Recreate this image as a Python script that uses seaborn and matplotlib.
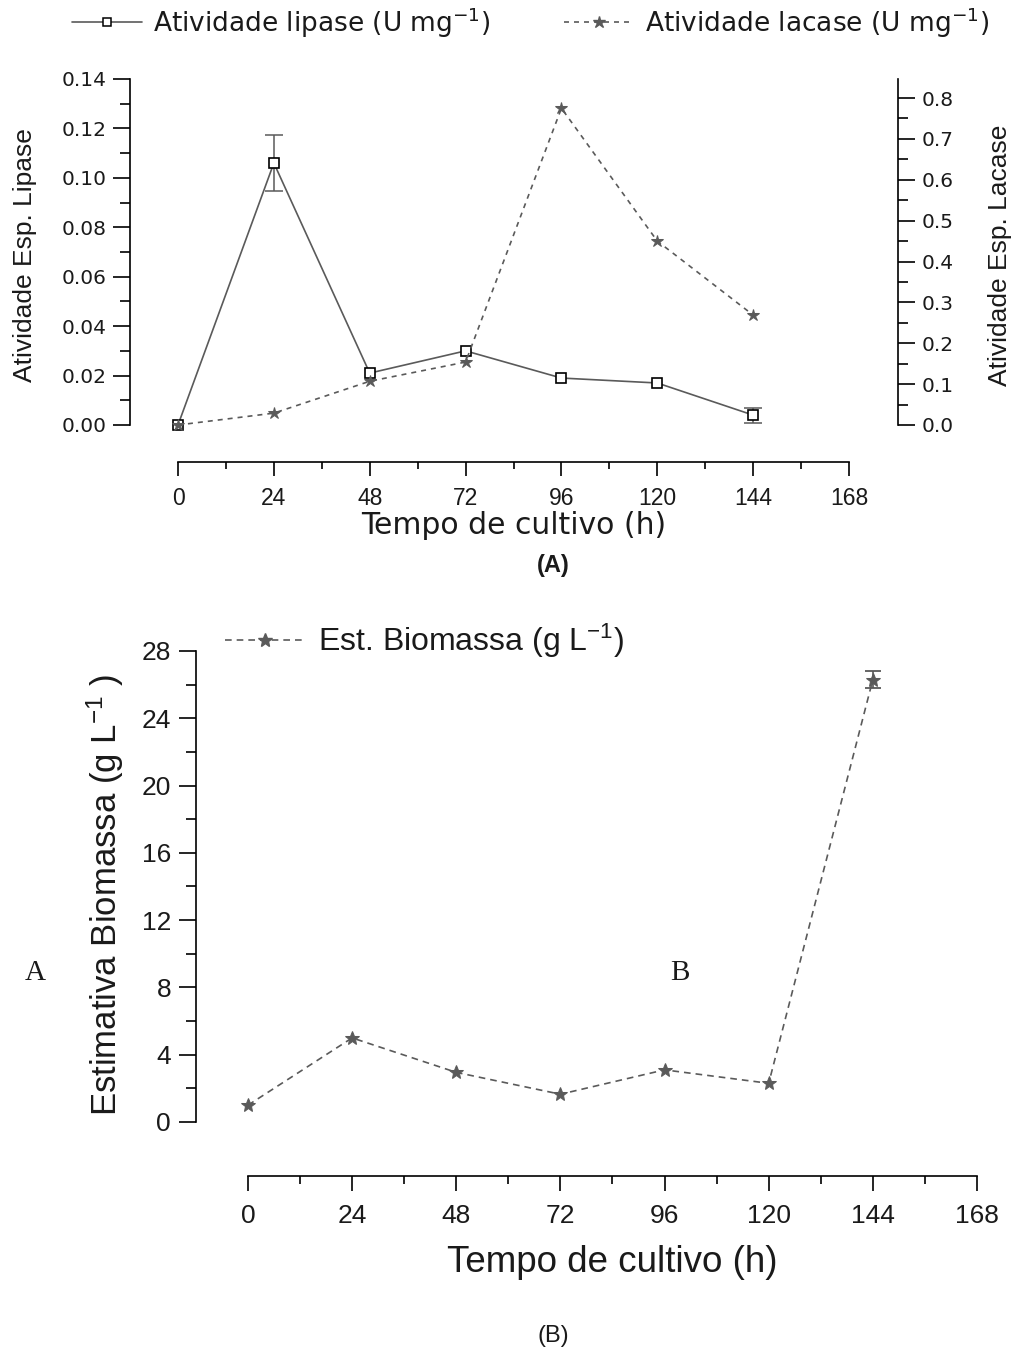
import matplotlib
matplotlib.use("Agg")
import matplotlib.pyplot as plt
from matplotlib.lines import Line2D
from matplotlib.ticker import FixedLocator
import numpy as np
import pandas as pd
import seaborn as sns

# ---- data -------------------------------------------------------------
hours = [0, 24, 48, 72, 96, 120, 144]
x_ticks = [0, 24, 48, 72, 96, 120, 144, 168]

lipase = [0.000, 0.106, 0.021, 0.030, 0.019, 0.017, 0.004]
lipase_err = [0.0, 0.0115, 0.0, 0.0, 0.0, 0.0, 0.003]
lacase = [0.000, 0.029, 0.107, 0.154, 0.775, 0.450, 0.269]

biomassa = [1.0, 5.0, 2.95, 1.65, 3.1, 2.3, 26.3]
biomassa_err = [0.0, 0.0, 0.0, 0.0, 0.0, 0.0, 0.5]

lipase_label = r"Atividade lipase (U mg$^{-1}$)"
lacase_label = r"Atividade lacase (U mg$^{-1}$)"
biomassa_label = r"Est. Biomassa (g L$^{-1}$)"

# ---- style ------------------------------------------------------------
sns.set_style("ticks")
plt.rcParams["font.family"] = ["DejaVu Sans"]
plt.rcParams["mathtext.fontset"] = "custom"
plt.rcParams["mathtext.rm"] = "DejaVu Sans"
plt.rcParams["mathtext.it"] = "DejaVu Sans:italic"
plt.rcParams["mathtext.default"] = "regular"

TXT = "#1a1a1a"
LINE = "#5a5a5a"
W, H = 1019, 1352
fig = plt.figure(figsize=(W / 100, H / 100), dpi=100)
fig.patch.set_facecolor("white")


def px_axes(left, top, right, bottom):
    return fig.add_axes([left / W, 1 - bottom / H, (right - left) / W, (bottom - top) / H])


def nonzero(xs, ys, es):
    keep = [i for i, e in enumerate(es) if e > 0]
    return [xs[i] for i in keep], [ys[i] for i in keep], [es[i] for i in keep]


x_minor = [v for v in range(0, 169, 12) if v % 24]

# ---- panel A ----------------------------------------------------------
ax = px_axes(130, 79, 898, 440)
ax2 = ax.twinx()
for a in (ax, ax2):
    a.set_facecolor("none")
    a.grid(False)

ax.set_xlim(-12.02, 180.27)
ax.set_ylim(-0.00607, 0.14)
ax2.set_ylim(-0.0367, 0.8465)

sns.lineplot(x=hours, y=lipase, ax=ax, color=LINE, linewidth=1.2,
             marker="s", markersize=6.5, markerfacecolor="white",
             markeredgecolor="black", markeredgewidth=1.2, clip_on=False, zorder=4)
ex, ey, ee = nonzero(hours, lipase, lipase_err)
ax.errorbar(ex, ey, yerr=ee, fmt="none", ecolor=LINE, elinewidth=1.1,
            capsize=6.5, capthick=1.1, zorder=3)

sns.lineplot(x=hours, y=lacase, ax=ax2, color=LINE, linewidth=1.2,
             linestyle=(0, (3, 3)), marker="*", markersize=9,
             markerfacecolor=LINE, markeredgecolor=LINE, clip_on=False, zorder=4)

for s in ("top", "right"):
    ax.spines[s].set_visible(False)
for s in ("top", "left", "bottom"):
    ax2.spines[s].set_visible(False)
ax.spines["left"].set_bounds(0, 0.14)
ax.spines["bottom"].set_position(("outward", 22 * 0.72))
ax.spines["bottom"].set_bounds(0, 168)
ax2.spines["right"].set_bounds(0, 0.8465)
for sp in (ax.spines["left"], ax.spines["bottom"], ax2.spines["right"]):
    sp.set_linewidth(1.2)
    sp.set_color("black")

lip_major = np.round(np.arange(0, 0.141, 0.02), 2)
lip_minor = np.round(np.arange(0.01, 0.14, 0.02), 2)
lac_major = np.round(np.arange(0, 0.81, 0.1), 1)
lac_minor = np.round(np.arange(0.05, 0.84, 0.1), 2)

ax.set_xticks(x_ticks)
ax.xaxis.set_minor_locator(FixedLocator(x_minor))
ax.set_yticks(lip_major)
ax.yaxis.set_minor_locator(FixedLocator(lip_minor))
ax2.set_yticks(lac_major)
ax2.yaxis.set_minor_locator(FixedLocator(lac_minor))
ax.set_yticklabels([f"{v:.2f}" for v in lip_major])
ax2.set_yticklabels([f"{v:.1f}" for v in lac_major])

ax.tick_params(axis="y", which="major", length=12, width=1.2, labelsize=14.5,
               colors="black", labelcolor=TXT, pad=5)
ax.tick_params(axis="y", which="minor", length=7, width=1.2, colors="black")
ax2.tick_params(axis="y", which="major", length=12, width=1.2, labelsize=14.5,
                colors="black", labelcolor=TXT, pad=5)
ax2.tick_params(axis="y", which="minor", length=7, width=1.2, colors="black")
ax.tick_params(axis="x", which="major", length=10, width=1.2, colors="black",
               labelcolor=TXT, pad=8)
ax.tick_params(axis="x", which="minor", length=5, width=1.2, colors="black")
for t in ax.get_xticklabels():
    t.set_fontfamily("Liberation Sans")
    t.set_fontsize(16.5)

ax.set_xlabel("")
ax.set_ylabel("")
ax2.set_ylabel("")
fig.text(25 / W, 1 - 255 / H, "Atividade Esp. Lipase", rotation=90, fontsize=19,
         fontfamily="Liberation Sans", color=TXT, ha="center", va="center")
fig.text(1000 / W, 1 - 255 / H, "Atividade Esp. Lacase", rotation=90, fontsize=19,
         fontfamily="Liberation Sans", color=TXT, ha="center", va="center")
fig.text(514 / W, 1 - 526 / H, "Tempo de cultivo (h)", fontsize=21.5, color=TXT,
         ha="center", va="center")
fig.text(553 / W, 1 - 565 / H, "(A)", fontsize=17, fontweight="bold",
         fontfamily="Liberation Sans", color=TXT, ha="center", va="center")

handles_a = [
    Line2D([], [], color=LINE, linewidth=1.2, marker="s", markersize=6,
           markerfacecolor="white", markeredgecolor="black", markeredgewidth=1.1),
    Line2D([], [], color=LINE, linewidth=1.2, linestyle=(0, (3, 3)), marker="*",
           markersize=9, markerfacecolor=LINE, markeredgecolor=LINE),
]
fig.legend(handles_a, [lipase_label, lacase_label], loc="upper left",
           bbox_to_anchor=(72 / W, 1 - 5 / H), ncol=2, frameon=False,
           fontsize=19, handlelength=2.65, handletextpad=0.42,
           columnspacing=2.8, borderpad=0, borderaxespad=0, labelcolor=TXT)

# ---- panel B ----------------------------------------------------------
bx = px_axes(196, 651, 990, 1135)
bx.set_facecolor("none")
bx.grid(False)
bx.set_xlim(-11.98, 171.0)
bx.set_ylim(-0.773, 28)

bio_df = pd.DataFrame({"hora": hours, "biomassa": biomassa})
sns.lineplot(data=bio_df, x="hora", y="biomassa", ax=bx, color=LINE, linewidth=1.2,
             linestyle=(0, (4, 3)), marker="*", markersize=10.5,
             markerfacecolor=LINE, markeredgecolor=LINE, clip_on=False, zorder=4)
ex, ey, ee = nonzero(hours, biomassa, biomassa_err)
bx.errorbar(ex, ey, yerr=ee, fmt="none", ecolor=LINE, elinewidth=1.2,
            capsize=5.5, capthick=1.3, zorder=3)

for s in ("top", "right"):
    bx.spines[s].set_visible(False)
bx.spines["left"].set_bounds(0, 28)
bx.spines["bottom"].set_position(("outward", 41 * 0.72))
bx.spines["bottom"].set_bounds(0, 168)
for s in ("left", "bottom"):
    bx.spines[s].set_linewidth(1.2)
    bx.spines[s].set_color("black")

bx.set_xticks(x_ticks)
bx.xaxis.set_minor_locator(FixedLocator(x_minor))
bx.set_yticks(np.arange(0, 29, 4))
bx.yaxis.set_minor_locator(FixedLocator(list(range(2, 28, 4))))
bx.tick_params(axis="y", which="major", length=12, width=1.2, labelsize=19,
               colors="black", labelcolor=TXT, pad=6)
bx.tick_params(axis="y", which="minor", length=7, width=1.2, colors="black")
bx.tick_params(axis="x", which="major", length=11, width=1.2, labelsize=19,
               colors="black", labelcolor=TXT, pad=9)
bx.tick_params(axis="x", which="minor", length=6, width=1.2, colors="black")
for t in bx.get_xticklabels() + bx.get_yticklabels():
    t.set_fontfamily("Liberation Sans")
bx.set_xlabel("")
bx.set_ylabel("")

fig.text(105 / W, 1 - 895 / H,
         r"Estimativa Biomassa (g L$^{-1}$ )", rotation=90, fontsize=25,
         fontfamily="Liberation Sans", color=TXT, ha="center", va="center")
fig.text(612 / W, 1 - 1262 / H, "Tempo de cultivo (h)", fontsize=26.5,
         fontfamily="Liberation Sans", color=TXT, ha="center", va="center")
fig.text(553 / W, 1 - 1336 / H, "(B)", fontsize=17,
         fontfamily="Liberation Sans", color=TXT, ha="center", va="center")
fig.text(35 / W, 1 - 973 / H, "A", fontsize=21, fontfamily="Liberation Serif",
         color=TXT, ha="center", va="center")
fig.text(680 / W, 1 - 973 / H, "B", fontsize=21, fontfamily="Liberation Serif",
         color=TXT, ha="center", va="center")

handles_b = [Line2D([], [], color=LINE, linewidth=1.2, linestyle=(0, (4, 3)),
                    marker="*", markersize=10, markerfacecolor=LINE,
                    markeredgecolor=LINE)]
leg_b = fig.legend(handles_b, [biomassa_label], loc="center left",
                   bbox_to_anchor=(225 / W, 1 - 641 / H), frameon=False,
                   fontsize=23, handlelength=2.5, handletextpad=0.42,
                   borderpad=0, borderaxespad=0, labelcolor=TXT)
for t in leg_b.get_texts():
    t.set_fontfamily("Liberation Sans")

fig.savefig("out.png", dpi=100, facecolor="white")
